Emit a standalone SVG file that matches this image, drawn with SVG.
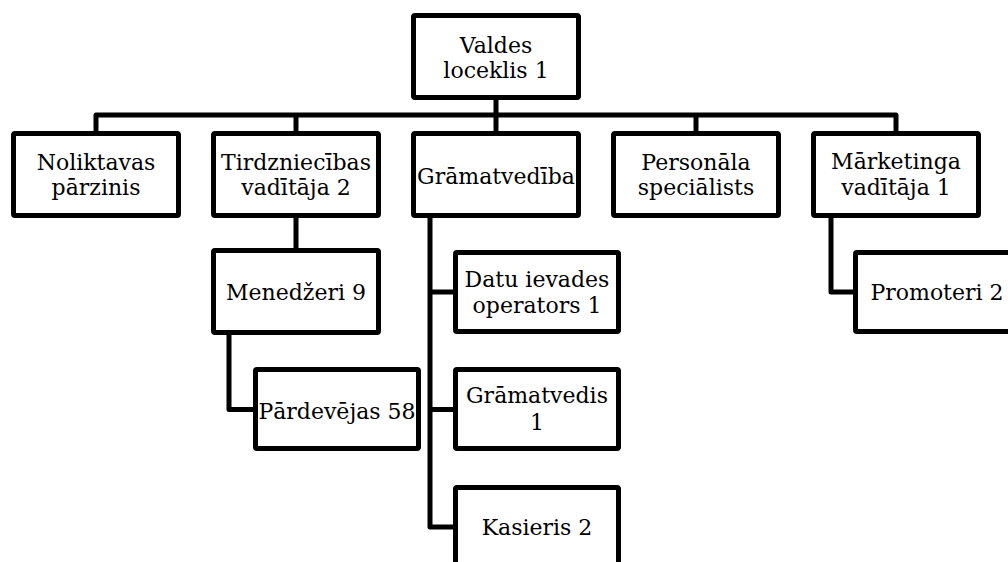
<svg xmlns="http://www.w3.org/2000/svg" width="1008" height="562" viewBox="0 0 1008 562">
<style>
.box{fill:#fff;stroke:#000;stroke-width:5;stroke-linejoin:round}
.lbl{font-family:"DejaVu Serif","Liberation Serif",serif;font-size:22px;fill:#000;text-anchor:middle}
.con{fill:none;stroke:#000;stroke-width:5;stroke-linejoin:round}
</style>
<rect width="1008" height="562" fill="#fff"/>
<g id="connectors">
<path class="con" d="M496 100V115M96 131V115H896V131M296 115V131M496 115V131M696 115V131"/>
<path class="con" d="M296 218V248"/>
<path class="con" d="M229 335V409.5H253"/>
<path class="con" d="M430 218V527H453M430 292H453M430 409.5H453"/>
<path class="con" d="M831 218V292H853"/>
</g>
<g id="n-valdes"><rect class="box" x="413.5" y="15.5" width="165" height="82" rx="1.5"/><text class="lbl" x="496" y="53">Valdes</text><text class="lbl" x="496" y="78">loceklis 1</text></g>
<g id="n-noliktavas"><rect class="box" x="13.5" y="133.5" width="165" height="82" rx="1.5"/><text class="lbl" x="96" y="170">Noliktavas</text><text class="lbl" x="96" y="195">pārzinis</text></g>
<g id="n-tirdzniecibas"><rect class="box" x="213.5" y="133.5" width="165" height="82" rx="1.5"/><text class="lbl" x="296" y="170">Tirdzniecības</text><text class="lbl" x="296" y="195">vadītāja 2</text></g>
<g id="n-gramatvediba"><rect class="box" x="413.5" y="133.5" width="165" height="82" rx="1.5"/><text class="lbl" x="496" y="184">Grāmatvedība</text></g>
<g id="n-personala"><rect class="box" x="613.5" y="133.5" width="165" height="82" rx="1.5"/><text class="lbl" x="696" y="170">Personāla</text><text class="lbl" x="696" y="195">speciālists</text></g>
<g id="n-marketinga"><rect class="box" x="813.5" y="133.5" width="165" height="82" rx="1.5"/><text class="lbl" x="896" y="169">Mārketinga</text><text class="lbl" x="896" y="195">vadītāja 1</text></g>
<g id="n-menedzeri"><rect class="box" x="213.5" y="250.5" width="165" height="82" rx="1.5"/><text class="lbl" x="296" y="300">Menedžeri 9</text></g>
<g id="n-pardevejas"><rect class="box" x="255.5" y="369.5" width="163" height="79" rx="1.5"/><text class="lbl" x="337" y="419">Pārdevējas 58</text></g>
<g id="n-datu"><rect class="box" x="455.5" y="252.5" width="163" height="79" rx="1.5"/><text class="lbl" x="537" y="287">Datu ievades</text><text class="lbl" x="537" y="313">operators 1</text></g>
<g id="n-gramatvedis"><rect class="box" x="455.5" y="369.5" width="163" height="79" rx="1.5"/><text class="lbl" x="537" y="403">Grāmatvedis</text><text class="lbl" x="537" y="430">1</text></g>
<g id="n-kasieris"><rect class="box" x="455.5" y="487.5" width="163" height="79" rx="1.5"/><text class="lbl" x="537" y="535">Kasieris 2</text></g>
<g id="n-promoteri"><rect class="box" x="855.5" y="252.5" width="163" height="79" rx="1.5"/><text class="lbl" x="937" y="300">Promoteri 2</text></g>
</svg>
